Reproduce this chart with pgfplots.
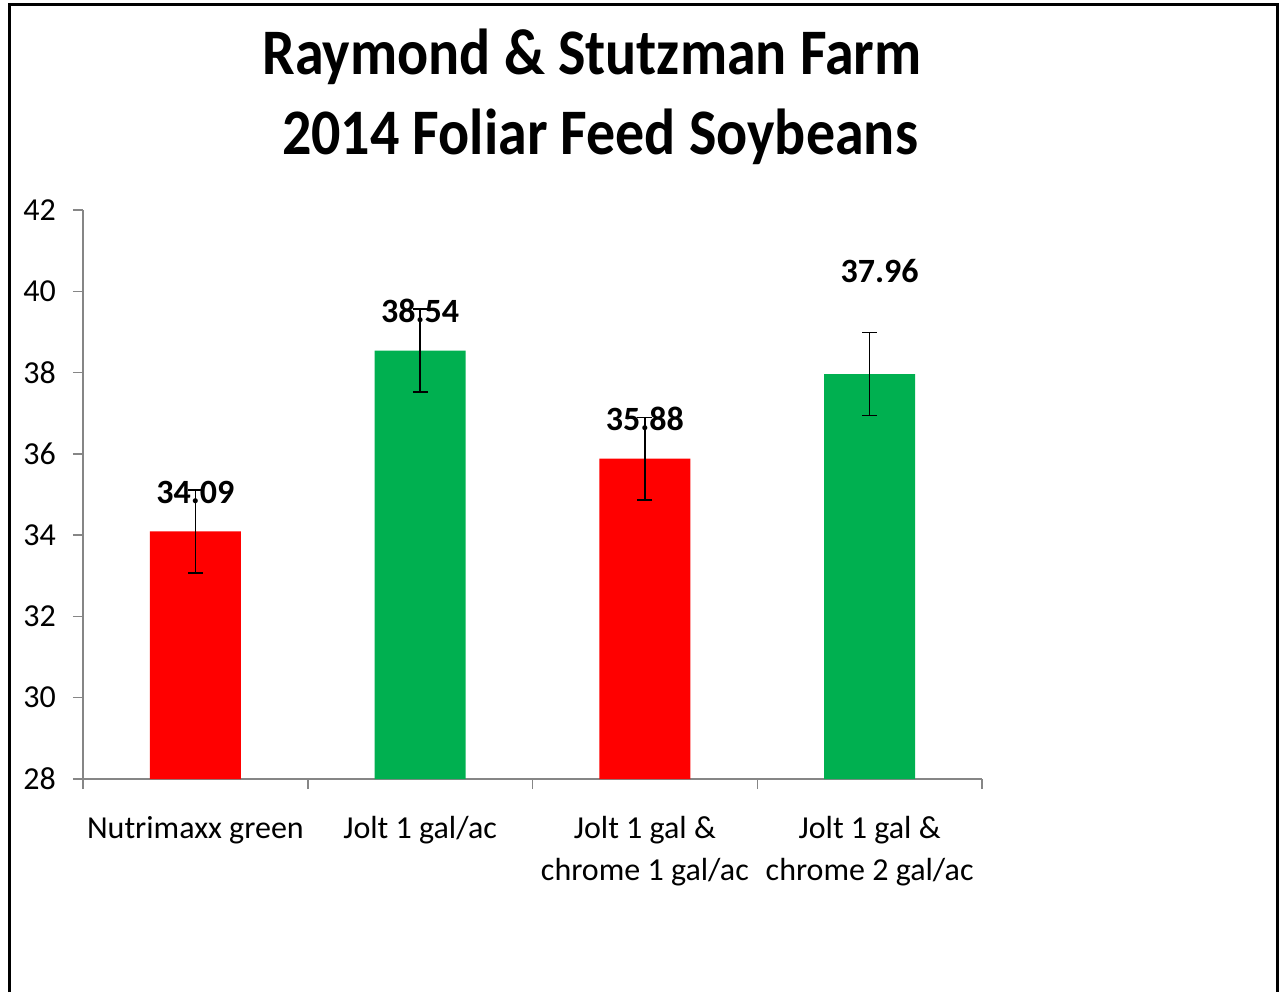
\documentclass[border=0pt]{standalone}
\usepackage{fontspec}
\setmainfont{Carlito}
\usepackage{pgfplots}
\pgfplotsset{compat=1.18}
\definecolor{barred}{HTML}{FF0000}
\definecolor{bargreen}{HTML}{00B050}
\definecolor{axgray}{HTML}{868686}
\begin{document}
\begin{tikzpicture}
\useasboundingbox (0pt,0pt) rectangle (640pt,496pt);
\draw[line width=1.5pt] (4.5pt,0pt) -- (4.5pt,493.5pt) -- (638.5pt,493.5pt) -- (638.5pt,0pt);
\node[anchor=base, font=\fontsize{29}{35}\selectfont\bfseries] at (296pt,458.5pt) {\scalebox{1}[1.12]{Raymond \& Stutzman Farm}};
\node[anchor=base, font=\fontsize{29}{35}\selectfont\bfseries] at (300pt,418.5pt) {\scalebox{1}[1.12]{2014 Foliar Feed Soybeans}};
\begin{axis}[
 at={(41.5pt,106.5pt)}, anchor=south west,
 scale only axis, width=449.5pt, height=284.5pt,
 xmin=-0.5, xmax=3.5, ymin=28, ymax=42,
 axis x line=bottom, axis y line=left,
 axis line style={-, draw=axgray, line width=0.75pt},
 ytick={28,30,...,42},
 xtick={0,1,2,3},
 xticklabels={Nutrimaxx green, Jolt 1 gal/ac, {Jolt 1 gal \&\\chrome 1 gal/ac}, {Jolt 1 gal \&\\chrome 2 gal/ac}},
 minor xtick={-0.5,0.5,1.5,2.5,3.5},
 major x tick style={draw=none},
 tick align=outside,
 major tick length=5pt, minor tick length=5pt,
 every tick/.style={draw=axgray, line width=0.75pt},
 x tick label style={font=\fontsize{16}{21}\selectfont, align=center, yshift=-10pt},
 y tick label style={font=\fontsize{16}{19}\selectfont, xshift=-5pt},
 /pgf/number format/assume math mode=true,
 ybar, bar width=45.5pt, bar shift=0pt,
 error bars/y dir=both, error bars/y explicit,
 error bars/error bar style={black, line width=0.75pt},
 error bars/error mark options={rotate=90, black, line width=0.75pt, mark size=3.75pt},
]
\addplot[fill=barred, draw=none] coordinates {(0,34.09) +- (0,1.02) (2,35.88) +- (0,1.02)};
\addplot[fill=bargreen, draw=none] coordinates {(1,38.54) +- (0,1.02) (3,37.96) +- (0,1.02)};
\node[anchor=base, yshift=14pt, font=\fontsize{17}{20}\selectfont\bfseries] at (axis cs:0,34.09) {34.09};
\node[anchor=base, yshift=14pt, font=\fontsize{17}{20}\selectfont\bfseries] at (axis cs:1,38.54) {38.54};
\node[anchor=base, yshift=14pt, font=\fontsize{17}{20}\selectfont\bfseries] at (axis cs:2,35.88) {35.88};
\node[anchor=base, yshift=46pt, xshift=5pt, font=\fontsize{17}{20}\selectfont\bfseries] at (axis cs:3,37.96) {37.96};
\end{axis}
\end{tikzpicture}
\end{document}
